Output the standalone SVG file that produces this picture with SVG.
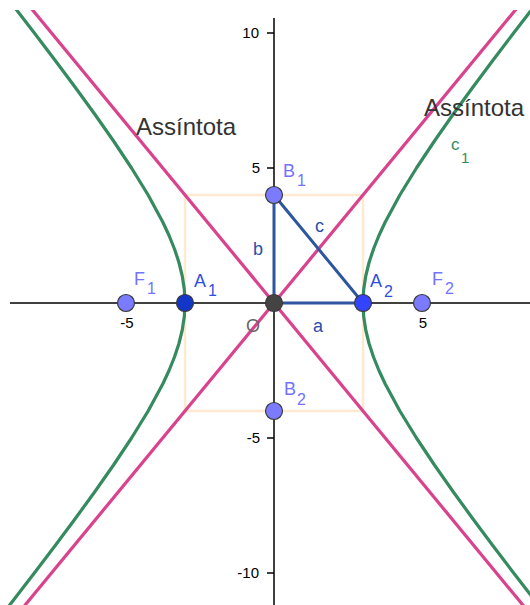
<svg xmlns="http://www.w3.org/2000/svg" width="530" height="605" viewBox="0 0 530 605">
<style>
.axis{stroke:#000;stroke-width:1.5;fill:none}
.tick{stroke:#000;stroke-width:1.5}
.num{font-family:"Liberation Sans",Arial,sans-serif;font-size:15px;fill:#000}
.asym{stroke:#D9428C;stroke-width:3.2;fill:none}
.hyp{stroke:#358A5F;stroke-width:3.2;fill:none;stroke-linejoin:round;stroke-linecap:round}
.box{stroke:#FFE9CF;stroke-width:2.5;fill:none}
.seg{stroke:#2D55A0;stroke-width:3;stroke-linecap:round}
.pt{stroke:#3a3a3a;stroke-width:1.2}
.plab{font-family:"Liberation Sans",Arial,sans-serif;font-size:18px;fill:#7373FF}
.alab{font-family:"Liberation Sans",Arial,sans-serif;font-size:18px;fill:#2E4FD9}
.slab{font-family:"Liberation Sans",Arial,sans-serif;font-size:18px;fill:#2A4FA8}
.sub{font-size:16px}
.asl{font-family:"Liberation Sans",Arial,sans-serif;font-size:24px;fill:#333}
</style>
<defs>
<clipPath id="view"><rect x="0" y="10" width="530" height="595"/></clipPath>
</defs>
<rect width="530" height="605" fill="#fff"/>
<g id="axes">
<line class="axis" x1="10" y1="303" x2="530" y2="303"/>
<line class="axis" x1="274" y1="18" x2="274" y2="605"/>
<line class="tick" x1="267" y1="33" x2="274" y2="33"/>
<line class="tick" x1="267" y1="168" x2="274" y2="168"/>
<line class="tick" x1="267" y1="438" x2="274" y2="438"/>
<line class="tick" x1="267" y1="573" x2="274" y2="573"/>
<line class="tick" x1="126" y1="303" x2="126" y2="310"/>
<line class="tick" x1="422" y1="303" x2="422" y2="310"/>
<text class="num" x="259" y="38" text-anchor="end">10</text>
<text class="num" x="260" y="173" text-anchor="end">5</text>
<text class="num" x="260" y="443" text-anchor="end">-5</text>
<text class="num" x="259" y="578" text-anchor="end">-10</text>
<text class="num" x="127" y="328" text-anchor="middle">-5</text>
<text class="num" x="423" y="328" text-anchor="middle">5</text>
</g>
<g id="rectangle">
<rect class="box" x="185" y="195" width="178" height="216"/>
</g>
<g id="connectors" clip-path="url(#view)">
<line id="asymptote1" class="asym" x1="16.9" y1="615" x2="531.9" y2="-10"/>
<line id="asymptote2" class="asym" x1="16.1" y1="-10" x2="531.1" y2="615"/>
<polyline id="c1-right" class="hyp" points="544.91,613.5 534.43,600 513.64,573 493.14,546 473.01,519 453.38,492 434.45,465 416.47,438 399.86,411 385.25,384 378.95,370.5 373.51,357 369.05,343.5 365.74,330 363.69,316.5 363,303 363.69,289.5 365.74,276 369.05,262.5 373.51,249 378.95,235.5 385.25,222 399.86,195 416.47,168 434.45,141 453.38,114 473.01,87 493.14,60 513.64,33 534.43,6 544.91,-7.5"/>
<polyline id="c1-left" class="hyp" points="3.09,613.5 13.57,600 34.36,573 54.86,546 74.99,519 94.62,492 113.55,465 131.53,438 148.14,411 162.75,384 169.05,370.5 174.49,357 178.95,343.5 182.26,330 184.31,316.5 185,303 184.31,289.5 182.26,276 178.95,262.5 174.49,249 169.05,235.5 162.75,222 148.14,195 131.53,168 113.55,141 94.62,114 74.99,87 54.86,60 34.36,33 13.57,6 3.09,-7.5"/>
<line id="seg-b" class="seg" x1="274" y1="303" x2="274" y2="195"/>
<line id="seg-a" class="seg" x1="274" y1="303" x2="363" y2="303"/>
<line id="seg-c" class="seg" x1="274" y1="195" x2="363" y2="303"/>
</g>
<g id="labels-lines">
<text class="asl" x="136" y="135">Assíntota</text>
<text class="asl" x="424" y="116">Assíntota</text>
<text x="451" y="150" font-family="Liberation Sans, Arial, sans-serif" font-size="17" fill="#358A5F">c<tspan x="461" y="163" font-size="15">1</tspan></text>
<text class="slab" x="253" y="255">b</text>
<text class="slab" x="315" y="232">c</text>
<text class="slab" x="313" y="332">a</text>
</g>
<g id="F1"><circle class="pt" cx="126" cy="303" r="8.5" fill="#7B7BFF"/><text class="plab" x="134" y="285">F<tspan class="sub" x="147" y="294">1</tspan></text></g>
<g id="F2"><circle class="pt" cx="422" cy="303" r="8.5" fill="#7B7BFF"/><text class="plab" x="432" y="285">F<tspan class="sub" x="445" y="294">2</tspan></text></g>
<g id="A1"><circle class="pt" cx="185" cy="303" r="8.5" fill="#1436C8"/><text class="alab" x="194" y="287">A<tspan class="sub" x="208" y="296">1</tspan></text></g>
<g id="A2"><circle class="pt" cx="363" cy="303" r="8.5" fill="#3344FF"/><text class="alab" x="370" y="287">A<tspan class="sub" x="384" y="297">2</tspan></text></g>
<g id="B1"><circle class="pt" cx="274" cy="195" r="8.5" fill="#7B7BFF"/><text class="plab" x="283" y="177">B<tspan class="sub" x="297" y="186">1</tspan></text></g>
<g id="B2"><circle class="pt" cx="274" cy="411" r="8.5" fill="#7B7BFF"/><text class="plab" x="284" y="395">B<tspan class="sub" x="297" y="405">2</tspan></text></g>
<g id="O"><circle class="pt" cx="274" cy="303" r="8.5" fill="#444"/><text x="246" y="332" font-family="Liberation Sans, Arial, sans-serif" font-size="18" fill="#666">O</text></g>
</svg>
